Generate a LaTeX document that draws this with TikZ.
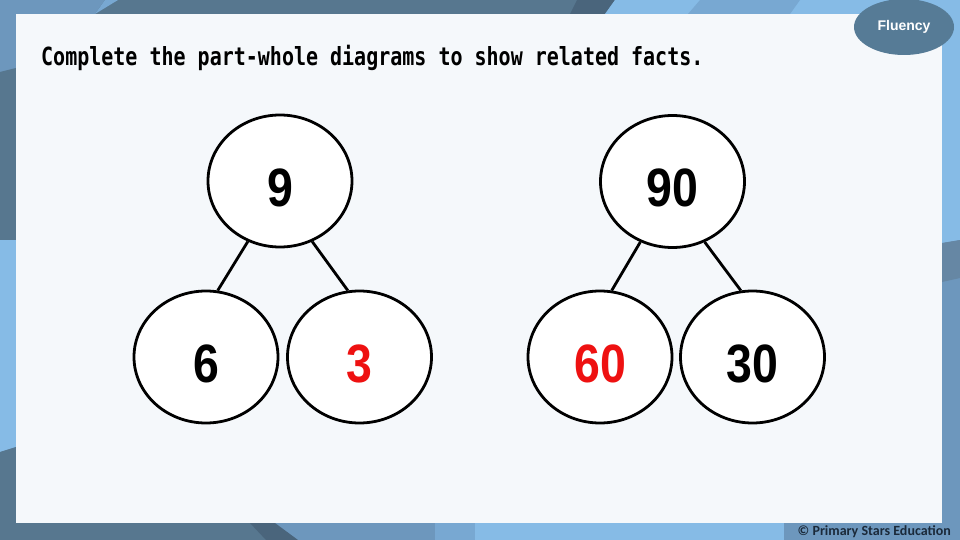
\documentclass[tikz,border=0pt]{standalone}
\usepackage{fontspec}
\usetikzlibrary{shapes.geometric}
\newfontfamily\titlefont{DejaVu Sans Mono}[FakeStretch=0.8]
\newfontfamily\numfont{Liberation Sans}[FakeStretch=0.86]
\newfontfamily\badgefont{Liberation Sans}
\newfontfamily\copyfont{Carlito}
\definecolor{cmid}{HTML}{6D97BD}
\definecolor{cdark}{HTML}{57778F}
\definecolor{cdarker}{HTML}{4A657C}
\definecolor{clight}{HTML}{86BBE6}
\definecolor{cmidlight}{HTML}{78A8D2}
\definecolor{cband}{HTML}{6687A4}
\definecolor{panel}{HTML}{F5F8FB}
\definecolor{badge}{HTML}{567B96}
\definecolor{copyc}{HTML}{1B2A3A}
\definecolor{ansred}{HTML}{EE1111}
\tikzset{
  pw/.style={ellipse, draw=black, line width=2.8pt, fill=white,
    minimum width=144pt, minimum height=132pt, inner sep=0pt,
    font=\numfont\bfseries\fontsize{54}{54}\selectfont,
    text height=50pt, text depth=0pt},
  link/.style={draw=black, line width=2.8pt},
}
\begin{document}
\begin{tikzpicture}[x=1pt,y=-1pt]
\useasboundingbox (0,0) rectangle (960,540);
% background
\fill[cmid] (0,0) rectangle (960,540);
\fill[cdark] (105,0) -- (600,0) -- (590,14) -- (95,14) -- cycle;
\fill[cmidlight] (95,14) -- (105,0) -- (118,0) -- cycle;
\fill[cdarker] (577,0) -- (615,0) -- (605,14) -- (570,14) -- cycle;
\fill[clight] (615,0) -- (960,0) -- (960,240) -- (942,243) -- (942,14) -- (605,14) -- cycle;
\fill[cmidlight] (700,0) -- (800,0) -- (790,14) -- (688,14) -- cycle;
\fill[cband] (942,243) -- (960,240) -- (960,278) -- (942,282) -- cycle;
\fill[cdark] (0,72) -- (16,68) -- (16,240) -- (0,240) -- cycle;
\fill[clight] (0,240) -- (16,240) -- (16,447) -- (0,452) -- cycle;
\fill[cdark] (0,452) -- (16,447) -- (16,540) -- (0,540) -- cycle;
\fill[cdark] (0,523) -- (263,523) -- (275,540) -- (0,540) -- cycle;
\fill[cdarker] (250,523) -- (275,523) -- (298,540) -- (266,540) -- cycle;
\fill[cmidlight] (435,523) -- (475,523) -- (475,540) -- (435,540) -- cycle;
\fill[clight] (475,523) -- (784,523) -- (784,540) -- (475,540) -- cycle;
% panel
\fill[panel] (16,14) rectangle (942,523);
% badge
\node[ellipse, fill=badge, minimum width=100pt, minimum height=56pt, inner sep=0pt,
  text=white, font=\badgefont\bfseries\fontsize{14}{15}\selectfont] (badge) at (904,27) {Fluency};
% copyright
\node[anchor=east, inner sep=0pt, text=copyc, font=\copyfont\bfseries\fontsize{14}{15}\selectfont] (copy) at (951,532) {© Primary Stars Education};
% title
\node[anchor=base west, inner sep=0pt, font=\titlefont\bfseries\fontsize{25}{26}\selectfont] (title) at (41,66) {Complete the part-whole diagrams to show related facts.};
% left diagram
\node[pw] (t1) at (280,181) {9};
\node[pw] (l1) at (206,357) {6};
\node[pw, text=ansred] (r1) at (359.5,357) {3};
\draw[link] (t1.242) -- (l1.80);
\draw[link] (t1.298) -- (r1.100);
% right diagram
\node[pw] (t2) at (672.5,181.5) {90};
\node[pw, text=ansred] (l2) at (600,357) {60};
\node[pw] (r2) at (752.5,357) {30};
\draw[link] (t2.242) -- (l2.80);
\draw[link] (t2.298) -- (r2.100);
\end{tikzpicture}
\end{document}
